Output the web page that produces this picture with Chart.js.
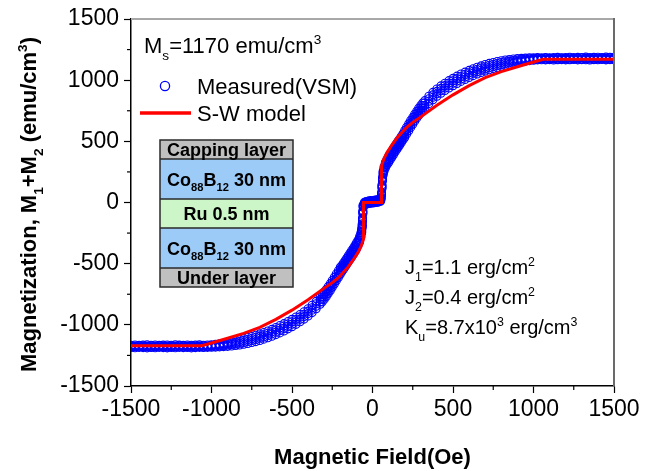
<!DOCTYPE html>
<html><head><meta charset="utf-8">
<script src="https://cdn.jsdelivr.net/npm/chart.js@4.4.1/dist/chart.umd.min.js"></script>
<style>html,body{margin:0;padding:0;background:#fff;}canvas{display:block;}</style>
</head><body>
<canvas id="c" width="661" height="471"></canvas>
<script>
// ---- data ----
const xTickValues = [-1500, -1000, -500, 0, 500, 1000, 1500];
const yTickValues = [-1500, -1000, -500, 0, 500, 1000, 1500];
const minorTickValues = [-1250, -750, -250, 250, 750, 1250];

const measuredField = [
 -1500,-1475,-1450,-1425,-1400,-1375,-1350,-1325,-1300,-1275,-1250,-1225,-1200,-1175,-1150,-1125,-1100,-1075,-1050,-1025,
 -1000,-975,-950,-925,-900,-875,-850,-825,-800,-775,-750,-725,-700,-675,-650,-625,-600,-575,-550,-525,
 -500,-475,-450,-425,-400,-375,-350,-325,-300,-275,-250,-225,-200,
 -190,-180,-170,-160,-150,-140,-130,-120,-110,-100,-90,-80,-72,-67,-64,-62,-60,-58,
 -50,-40,-30,-20,-10,0,10,20,30,40,50,
 53,56,59,62,66,72,80,90,100,110,120,130,140,150,160,170,180,190,
 200,225,250,275,300,325,350,375,400,425,450,475,500,525,550,575,600,625,650,675,700,725,750,775,800,825,850,875,900,925,950,975,
 1000,1025,1050,1075,1100,1125,1150,1175,1200,1225,1250,1275,1300,1325,1350,1375,1400,1425,1450,1475,1500,
 -312,-287,-262,-237,-212,212,237,262,287,312
];
// outer edge of the band (upper)
const measuredRun1 = [
 -1167,-1165,-1168,-1166,-1164,-1167,-1165,-1168,-1166,-1165,-1167,-1164,-1166,-1168,-1165,-1167,-1166,-1164,-1167,-1165,
 -1163,-1160,-1156,-1150,-1144,-1137,-1129,-1121,-1113,-1104,-1095,-1085,-1074,-1063,-1050,-1037,-1022,-1006,-990,-973,
 -955,-936,-915,-893,-868,-840,-808,-772,-732,-688,-637,-584,-530,
 -515,-495,-475,-455,-435,-415,-395,-375,-353,-330,-308,-278,-247,-215,-175,-125,-68,-20,
 2,7,10,13,15,16,18,20,22,25,30,
 45,82,145,205,255,293,327,352,377,399,420,441,462,482,502,522,542,562,
 588,643,696,746,793,833,868,900,928,953,975,996,1015,1033,1050,1066,1080,1093,1106,1117,1128,1137,1145,1152,1159,1165,1169,1173,1176,1178,1180,1182,
 1183,1184,1183,1185,1182,1184,1186,1183,1185,1187,1184,1186,1185,1188,1184,1186,1187,1185,1188,1186,1187,
 -752,-710,-663,-611,-557,615,670,721,770,813
];
const measuredRun2 = [
 -1172,-1174,-1171,-1173,-1175,-1172,-1174,-1171,-1173,-1174,-1172,-1175,-1171,-1173,-1174,-1172,-1175,-1173,-1171,-1174,
 -1170,-1167,-1164,-1159,-1155,-1149,-1142,-1136,-1128,-1120,-1112,-1102,-1092,-1081,-1069,-1056,-1041,-1026,-1010,-993,
 -975,-956,-935,-913,-888,-860,-828,-792,-752,-707,-656,-603,-549,
 -532,-512,-492,-472,-452,-432,-412,-392,-370,-347,-323,-293,-259,-225,-185,-135,-76,-27,
 -5,0,3,6,8,9,11,13,15,18,23,
 38,74,135,195,245,281,312,337,360,382,403,424,445,465,485,505,525,545,
 569,624,677,727,773,813,848,880,908,933,955,976,995,1013,1030,1046,1061,1074,1087,1099,1110,1120,1128,1136,1144,1150,1156,1161,1165,1169,1172,1175,
 1176,1179,1177,1180,1178,1177,1179,1181,1178,1180,1177,1179,1181,1178,1180,1179,1177,1180,1178,1181,1179,
 -772,-730,-682,-630,-576,597,651,702,750,793
];
const measuredRun3 = [
 -1179,-1177,-1180,-1178,-1177,-1180,-1178,-1179,-1177,-1180,-1178,-1177,-1179,-1180,-1178,-1177,-1179,-1178,-1180,-1177,
 -1176,-1175,-1172,-1169,-1165,-1161,-1156,-1150,-1144,-1136,-1128,-1120,-1110,-1099,-1087,-1074,-1061,-1046,-1030,-1013,
 -995,-976,-955,-933,-908,-880,-848,-812,-772,-725,-674,-621,-567,
 -548,-528,-508,-488,-468,-448,-428,-408,-386,-363,-337,-307,-271,-235,-195,-145,-84,-33,
 -11,-6,-3,0,2,3,5,7,9,12,17,
 32,66,125,185,235,269,298,323,344,366,387,408,429,449,469,489,509,529,
 551,606,659,709,753,793,828,860,888,913,935,956,975,993,1010,1026,1041,1056,1069,1081,1092,1102,1112,1120,1128,1136,1142,1149,1155,1159,1164,1167,
 1170,1172,1174,1171,1173,1172,1170,1174,1172,1171,1173,1174,1171,1173,1172,1170,1173,1174,1171,1172,1173,
 -792,-749,-700,-648,-594,579,633,684,731,773
];
// outer edge of the band (lower)
const measuredRun4 = [
 -1185,-1187,-1184,-1186,-1188,-1185,-1187,-1184,-1186,-1188,-1185,-1187,-1184,-1186,-1185,-1188,-1186,-1184,-1185,-1184,
 -1183,-1182,-1180,-1178,-1176,-1173,-1169,-1165,-1159,-1152,-1145,-1137,-1128,-1117,-1106,-1093,-1080,-1066,-1050,-1033,
 -1015,-996,-975,-953,-928,-900,-868,-832,-792,-744,-693,-640,-586,
 -565,-545,-525,-505,-485,-465,-445,-425,-403,-380,-352,-322,-283,-245,-205,-155,-92,-40,
 -18,-13,-10,-7,-5,-4,-2,0,2,5,10,
 25,58,115,175,225,257,283,308,327,349,370,391,412,432,452,472,492,512,
 532,587,640,690,733,773,808,840,868,893,915,936,955,973,990,1006,1022,1037,1050,1063,1074,1085,1095,1104,1113,1121,1129,1137,1144,1150,1156,1160,
 1163,1166,1167,1166,1168,1165,1167,1168,1166,1167,1169,1166,1168,1167,1165,1168,1167,1169,1166,1168,1167,
 -812,-769,-719,-667,-613,560,614,665,712,753
];
const modelField = [-1500,-1060,-1000,-900,-800,-700,-600,-500,-400,-300,-250,-212,-150,-120,-88,-70,-56,-56,56,56,70,88,120,150,212,250,300,400,500,600,700,800,900,1000,1060,1500];
const modelMoment = [-1170,-1170,-1148,-1110,-1070,-1020,-955,-880,-795,-700,-655,-615,-525,-470,-404,-355,-300,0,0,300,355,404,470,525,615,655,700,795,880,955,1020,1070,1110,1148,1170,1170];

// ---- texts ----
const xTitle = 'Magnetic Field(Oe)';
const yTitleParts = [['Magnetization, M',0],['1',1],['+M',0],['2',1],[' (emu/cm',0],['3',2],[')',0]];
const msParts = [['M',0],['s',1],['=1170 emu/cm',0],['3',2]];
const legendMeasured = 'Measured(VSM)';
const legendModel = 'S-W model';
const paramLines = [
  [['J',0],['1',1],['=1.1 erg/cm',0],['2',2]],
  [['J',0],['2',1],['=0.4 erg/cm',0],['2',2]],
  [['K',0],['u',1],['=8.7x10',0],['3',2],[' erg/cm',0],['3',2]]
];
const layerStack = [
  {parts:[['Capping layer',0]], color:'#c0c0c0'},
  {parts:[['Co',0],['88',1],['B',0],['12',1],[' 30 nm',0]], color:'#9dcbf7'},
  {parts:[['Ru 0.5 nm',0]], color:'#ccf5c8'},
  {parts:[['Co',0],['88',1],['B',0],['12',1],[' 30 nm',0]], color:'#9dcbf7'},
  {parts:[['Under layer',0]], color:'#c0c0c0'}
];

const FONT = '"Liberation Sans", Arial, Helvetica, sans-serif';
function toPts(xs, ys){ return xs.map((x,i)=>({x:x, y:ys[i]})); }

function rich(ctx, parts, x, y, size, weight, align, color){
  const k = 0.62;
  const f = s => `${weight} ${s}px ${FONT}`;
  let w = 0;
  parts.forEach(p=>{ ctx.font = f(p[1]? size*k : size); w += ctx.measureText(p[0]).width; });
  let cx = align==='center' ? x - w/2 : (align==='right' ? x - w : x);
  ctx.fillStyle = color || '#000';
  ctx.textAlign = 'left';
  ctx.textBaseline = 'alphabetic';
  parts.forEach(p=>{
    const s = p[1]? size*k : size;
    ctx.font = f(s);
    const dy = p[1]===1 ? size*0.33 : (p[1]===2 ? -size*0.4 : 0);
    ctx.fillText(p[0], cx, y+dy);
    cx += ctx.measureText(p[0]).width;
  });
}

const decor = {
  id:'decor',
  beforeDraw(chart){
    const c = chart.ctx; c.save(); c.fillStyle='#fff'; c.fillRect(0,0,chart.width,chart.height); c.restore();
  },
  afterDraw(chart){
    const c = chart.ctx, a = chart.chartArea, xs = chart.scales.x, ys = chart.scales.y;
    c.save();
    c.lineWidth = 2;
    c.strokeStyle = '#a8a8a8';
    c.beginPath(); c.moveTo(a.left, a.top); c.lineTo(a.right, a.top); c.stroke();
    c.strokeStyle = '#6a6a6a';
    c.beginPath(); c.moveTo(a.right, a.top-1); c.lineTo(a.right, a.bottom); c.stroke();
    c.strokeStyle = '#000'; c.lineWidth = 1.2;
    minorTickValues.forEach(v=>{
      const px = xs.getPixelForValue(v);
      c.beginPath(); c.moveTo(px, a.bottom); c.lineTo(px, a.bottom+4); c.stroke();
      const py = ys.getPixelForValue(v);
      c.beginPath(); c.moveTo(a.left, py); c.lineTo(a.left-4, py); c.stroke();
    });
    rich(c, [[xTitle,0]], (a.left+a.right)/2, 464, 22, 'bold', 'center');
    c.save(); c.translate(36, (a.top+a.bottom)/2+2); c.rotate(-Math.PI/2);
    rich(c, yTitleParts, 0, 0, 22, 'bold', 'center');
    c.restore();
    rich(c, msParts, 144, 53, 22, 'normal', 'left');
    c.strokeStyle = '#0000ff'; c.lineWidth = 1.3;
    c.beginPath(); c.arc(165, 86, 4.6, 0, Math.PI*2); c.stroke();
    rich(c, [[legendMeasured,0]], 197, 94, 22, 'normal', 'left');
    c.strokeStyle = '#ff0000'; c.lineWidth = 3.5;
    c.beginPath(); c.moveTo(140, 113); c.lineTo(191, 113); c.stroke();
    rich(c, [[legendModel,0]], 197, 121, 22, 'normal', 'left');
    paramLines.forEach((p,i)=> rich(c, p, 405, 274 + i*30, 20, 'normal', 'left'));
    const bx = 160, bw = 133;
    const edges = [140, 159, 199, 228, 268, 287];
    layerStack.forEach((L,i)=>{
      c.fillStyle = L.color; c.fillRect(bx, edges[i], bw, edges[i+1]-edges[i]);
    });
    c.strokeStyle = '#2a2a2a'; c.lineWidth = 1.5;
    c.strokeRect(bx, edges[0], bw, edges[5]-edges[0]);
    for (let i=1;i<5;i++){ c.beginPath(); c.moveTo(bx, edges[i]); c.lineTo(bx+bw, edges[i]); c.stroke(); }
    layerStack.forEach((L,i)=>{
      const mid = (edges[i]+edges[i+1])/2;
      rich(c, L.parts, bx+bw/2, mid+6.5, 18, 'bold', 'center');
    });
    c.restore();
  }
};

const tickFont = {family: FONT, size: 23};
function measuredSet(label, values, order){
  return { label: label, data: toPts(measuredField, values), showLine: false, pointStyle: 'circle',
    pointRadius: 4, pointBorderWidth: 1.1, borderColor: '#0000ff', backgroundColor: 'rgba(0,0,0,0)', order: order, clip: 0 };
}
new Chart(document.getElementById('c'), {
  type: 'scatter',
  data: { datasets: [
    { label: legendModel, data: toPts(modelField, modelMoment), showLine: true, borderColor: '#ff0000', borderWidth: 3,
      pointRadius: 0, tension: 0, order: 0, clip: 0 },
    measuredSet(legendMeasured, measuredRun1, 1),
    measuredSet(legendMeasured + ' 2', measuredRun2, 2),
    measuredSet(legendMeasured + ' 3', measuredRun3, 3),
    measuredSet(legendMeasured + ' 4', measuredRun4, 4)
  ]},
  options: {
    responsive: false, animation: false, devicePixelRatio: 1,
    layout: { padding: { top: 19, right: 47, left: 0, bottom: 0 } },
    plugins: { legend: { display: false }, tooltip: { enabled: false } },
    scales: {
      x: { type: 'linear', min: -1500, max: 1500,
        afterFit(s){ s.height = 85; },
        afterBuildTicks(s){ s.ticks = xTickValues.map(v=>({value:v})); },
        ticks: { autoSkip: false, maxRotation: 0, padding: 3, color: '#000', font: tickFont, callback: v => String(v) },
        grid: { drawOnChartArea: false, drawTicks: true, tickLength: 7, tickColor: '#000', tickWidth: 1.2 },
        border: { color: '#000', width: 1.5 } },
      y: { type: 'linear', min: -1500, max: 1500,
        afterFit(s){ s.width = 131; },
        afterBuildTicks(s){ s.ticks = yTickValues.map(v=>({value:v})); },
        ticks: { autoSkip: false, padding: 5, color: '#000', font: tickFont, callback: v => String(v) },
        grid: { drawOnChartArea: false, drawTicks: true, tickLength: 7, tickColor: '#000', tickWidth: 1.2 },
        border: { color: '#000', width: 1.5 } }
    }
  },
  plugins: [decor]
});
</script>
</body></html>
